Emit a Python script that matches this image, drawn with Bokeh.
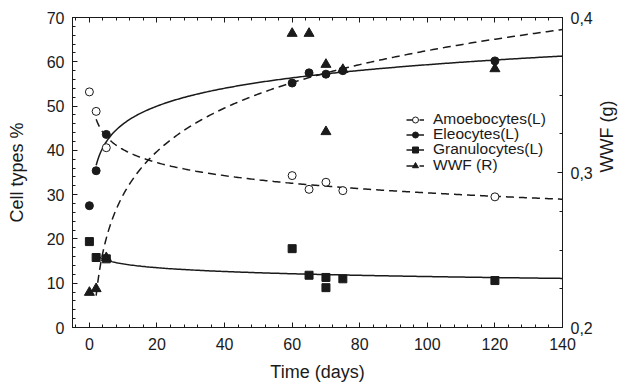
import numpy as np
from bokeh.plotting import figure
from bokeh.models import (Range1d, LinearAxis, SingleIntervalTicker, FixedTicker,
                          CustomJSTickFormatter, Legend, LegendItem, Label)
from bokeh.embed import file_html
from bokeh.resources import INLINE

# ---------------- data ----------------
days_amoe = [0, 2, 5, 60, 65, 70, 75, 120]
amoebocytes = [53.2, 48.8, 40.6, 34.3, 31.2, 32.8, 30.9, 29.5]

days_eleo = [0, 2, 5, 60, 65, 70, 75, 120]
eleocytes = [27.5, 35.4, 43.6, 55.2, 57.5, 57.2, 58.0, 60.2]

days_gran = [0, 2, 5, 60, 65, 70, 70, 75, 120]
granulocytes = [19.4, 15.8, 15.5, 17.8, 11.8, 11.3, 9.0, 11.0, 10.6]

days_wwf = [0, 2, 5, 60, 65, 70, 70, 75, 120]
wwf_g = [0.2226, 0.225, 0.245, 0.3897, 0.3897, 0.3697, 0.3263, 0.3664, 0.3669]

series_labels = ["Amoebocytes(L)", "Eleocytes(L)", "Granulocytes(L)", "WWF (R)"]

x_ticks_interval = 20
left_ticks_interval = 10
right_ticks = [0.2, 0.3, 0.4]
right_minor = [0.225, 0.25, 0.275, 0.325, 0.35, 0.375]

FONT = "Liberation Sans"
INK = "#1a1a1a"

# ---------------- logarithmic trend curves fitted to the data ----------------
def log_fit(xs, ys):
    xs = np.asarray(xs, float)
    ys = np.asarray(ys, float)
    m = xs > 0
    b, a = np.polyfit(np.log(xs[m]), ys[m], 1)
    xc = np.linspace(2, 140, 300)
    return xc, a + b * np.log(xc)

xa, ya = log_fit(days_amoe, amoebocytes)
xe, ye = log_fit(days_eleo, eleocytes)
xg, yg = log_fit(days_gran, granulocytes)
xw, yw = log_fit(days_wwf, wwf_g)

# ---------------- figure ----------------
p = figure(frame_width=490, frame_height=310, output_backend="svg", toolbar_location=None,
           x_range=Range1d(-5, 140), y_range=Range1d(0, 70),
           min_border_left=72, min_border_right=63, min_border_top=17, min_border_bottom=57)
p.extra_y_ranges = {"wwf": Range1d(0.2, 0.4)}
p.xgrid.visible = False
p.ygrid.visible = False
p.outline_line_color = INK
p.outline_line_width = 1
p.background_fill_color = "white"
p.border_fill_color = "white"

bottom = p.below[0]
left = p.left[0]
bottom.ticker = SingleIntervalTicker(interval=x_ticks_interval, num_minor_ticks=5)
left.ticker = SingleIntervalTicker(interval=left_ticks_interval, num_minor_ticks=5)
bottom.axis_label = "Time (days)"
left.axis_label = "Cell types %"


def style_axis(ax):
    ax.axis_line_color = INK
    ax.major_tick_in = 5
    ax.major_tick_out = 0
    ax.minor_tick_in = 3
    ax.minor_tick_out = 0
    ax.major_tick_line_color = INK
    ax.minor_tick_line_color = INK
    ax.major_label_text_font = FONT
    ax.major_label_text_font_size = "16px"
    ax.major_label_text_color = INK
    ax.axis_label_text_font = FONT
    ax.axis_label_text_font_size = "18px"
    ax.axis_label_text_font_style = "normal"
    ax.axis_label_text_color = INK


right = LinearAxis(y_range_name="wwf",
                   ticker=FixedTicker(ticks=right_ticks, minor_ticks=right_minor),
                   formatter=CustomJSTickFormatter(code="return tick.toFixed(1).replace('.', ',');"),
                   axis_label="WWF (g)")
p.add_layout(right, "right")

top = LinearAxis(ticker=SingleIntervalTicker(interval=x_ticks_interval, num_minor_ticks=5),
                 formatter=CustomJSTickFormatter(code="return '';"))
p.add_layout(top, "above")

for ax in [bottom, left, right, top]:
    style_axis(ax)

top.major_label_standoff = 0

bottom.major_label_standoff = 10
bottom.axis_label_standoff = 9
left.major_label_standoff = 8
left.axis_label_standoff = 17
right.major_label_standoff = 8
right.axis_label_standoff = 11
try:
    right.axis_label_orientation = np.pi / 2
except Exception:
    right.axis_label = ""
    p.add_layout(Label(x=542, y=155, x_units="screen", y_units="screen", text="WWF (g)",
                       angle=np.pi / 2, text_font=FONT, text_font_size="18px",
                       text_color=INK, text_align="center", text_baseline="middle"))

# ---------------- glyphs ----------------
dash = "8 5"
l_a = p.line(xa, ya, line_color=INK, line_width=1.5, line_dash=dash)
l_e = p.line(xe, ye, line_color=INK, line_width=1.5)
l_g = p.line(xg, yg, line_color=INK, line_width=1.5)
l_w = p.line(xw, yw, line_color=INK, line_width=1.5, line_dash=dash, y_range_name="wwf")

s_a = p.scatter(days_amoe, amoebocytes, marker="circle", size=8, fill_color="white",
                line_color=INK, line_width=1)
s_e = p.scatter(days_eleo, eleocytes, marker="circle", size=8, fill_color=INK, line_color=INK)
s_g = p.scatter(days_gran, granulocytes, marker="square", size=8, fill_color=INK, line_color=INK)
s_w = p.scatter(days_wwf, wwf_g, marker="triangle", size=10, fill_color=INK, line_color=INK,
                y_range_name="wwf")

# one legend per row so that the rows sit as tightly as in the reference
renderer_pairs = [[l_a, s_a], [l_e, s_e], [l_g, s_g], [l_w, s_w]]
row_bottoms = [199, 184, 169, 153]
for lab, rends, yb in zip(series_labels, renderer_pairs, row_bottoms):
    lg = Legend(items=[LegendItem(label=lab, renderers=rends)], location=(334, yb))
    lg.border_line_color = None
    lg.background_fill_alpha = 0
    lg.padding = 0
    lg.margin = 0
    lg.spacing = 0
    lg.label_height = 15
    lg.glyph_height = 15
    lg.glyph_width = 18
    lg.label_standoff = 9
    lg.label_text_font = FONT
    lg.label_text_font_size = "15.5px"
    lg.label_text_color = INK
    p.add_layout(lg)

open("out.html", "w").write(file_html(p, INLINE))
